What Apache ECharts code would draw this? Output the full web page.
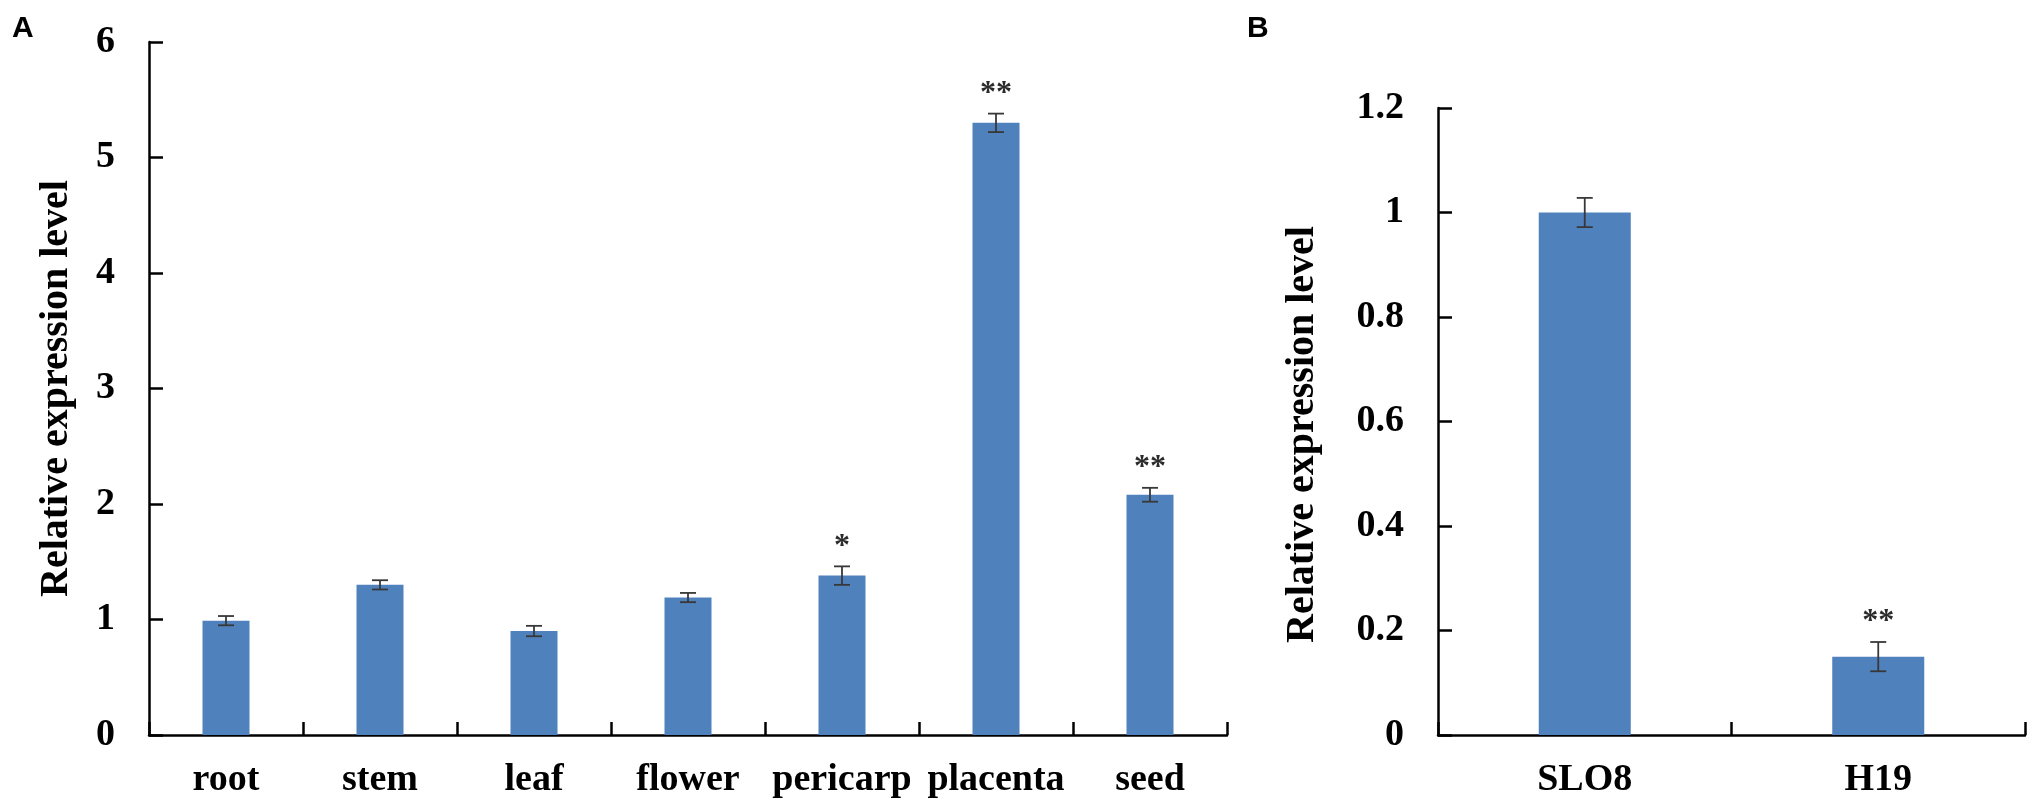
<!DOCTYPE html>
<html>
<head>
<meta charset="utf-8">
<script src="https://cdn.jsdelivr.net/npm/echarts@6/dist/echarts.min.js"></script>
<style>
    html, body { margin: 0; padding: 0; background: #fff; }
    #main { width: 2033px; height: 808px; }
</style>
</head>
<body>
<div id="main"></div>
<script>
// panel A: tissues
let tissueNames = ['root', 'stem', 'leaf', 'flower', 'pericarp', 'placenta', 'seed'];
let tissueValues = [0.99, 1.30, 0.90, 1.19, 1.38, 5.30, 2.08];
let tissueErrors = [0.04, 0.04, 0.045, 0.04, 0.08, 0.08, 0.06];
let tissueMarks = ['', '', '', '', '*', '**', '**'];
let tissueTicks = [0, 1, 2, 3, 4, 5, 6];

// panel B: lines
let lineNames = ['SLO8', 'H19'];
let lineValues = [1.00, 0.15];
let lineErrors = [0.028, 0.028];
let lineMarks = ['', '**'];
let lineTicks = [0, 0.2, 0.4, 0.6, 0.8, 1, 1.2];

const SERIF = '"Liberation Serif", "Times New Roman", serif';
const BAR_COLOR = '#4F81BD';
const ERR_COLOR = '#383838';

/**
 * error bar + significance stars
 */
function errorRenderer(marks) {
    return function (params, api) {
        let idx = api.value(0);
        let v = api.value(1);
        let e = api.value(2);
        let hi = api.coord([idx, v + e]);
        let lo = api.coord([idx, v - e]);
        let cap = 8;
        let lineStyle = { stroke: ERR_COLOR, lineWidth: 1.8 };
        let children = [
            { type: 'line', shape: { x1: hi[0], y1: hi[1], x2: lo[0], y2: lo[1] }, style: lineStyle },
            { type: 'line', shape: { x1: hi[0] - cap, y1: hi[1], x2: hi[0] + cap, y2: hi[1] }, style: lineStyle },
            { type: 'line', shape: { x1: lo[0] - cap, y1: lo[1], x2: lo[0] + cap, y2: lo[1] }, style: lineStyle }
        ];
        let mark = marks[params.dataIndex];
        if (mark) {
            children.push({
                type: 'text',
                x: hi[0],
                y: hi[1] - 20,
                style: {
                    text: mark,
                    font: 'bold 32px ' + SERIF,
                    fill: '#2b2b2b',
                    align: 'center',
                    verticalAlign: 'middle'
                }
            });
        }
        return { type: 'group', children: children };
    };
}

function xAxisOf(gridIndex, names) {
    return {
        type: 'category',
        gridIndex: gridIndex,
        data: names,
        axisLine: { lineStyle: { color: '#000', width: 2.5 } },
        axisTick: { show: true, interval: 0, alignWithLabel: false, inside: true, length: 13, lineStyle: { color: '#000', width: 2.5 } },
        axisLabel: { interval: 0, hideOverlap: false, margin: 26, color: '#000', fontFamily: SERIF, fontWeight: 'bold', fontSize: 38 },
        splitLine: { show: false }
    };
}

function yAxisOf(gridIndex, ticks, nameGap, namePadding) {
    return {
        type: 'value',
        gridIndex: gridIndex,
        min: ticks[0],
        max: ticks[ticks.length - 1],
        interval: ticks[1] - ticks[0],
        name: 'Relative expression level',
        nameLocation: 'middle',
        nameGap: nameGap,
        nameTextStyle: { color: '#000', fontFamily: SERIF, fontWeight: 'bold', fontSize: 40, padding: namePadding },
        axisLine: { show: true, lineStyle: { color: '#000', width: 2.5 } },
        axisTick: { show: true, inside: true, length: 14, lineStyle: { color: '#000', width: 2.5 } },
        axisLabel: { margin: 34, color: '#000', fontFamily: SERIF, fontWeight: 'bold', fontSize: 38 },
        splitLine: { show: false }
    };
}

let chart = echarts.init(document.getElementById('main'));
let option = {
    backgroundColor: '#fff',
    animation: false,
    graphic: [
        { type: 'text', left: 12, top: 14, style: { text: 'A', font: 'bold 30px "Liberation Sans", Arial, sans-serif', fill: '#000' } },
        { type: 'text', left: 1247, top: 14, style: { text: 'B', font: 'bold 30px "Liberation Sans", Arial, sans-serif', fill: '#000' } }
    ],
    grid: [
        { left: 149, right: 806, top: 42, bottom: 73 },
        { left: 1438, right: 8, top: 108, bottom: 73 }
    ],
    xAxis: [xAxisOf(0, tissueNames), xAxisOf(1, lineNames)],
    yAxis: [yAxisOf(0, tissueTicks, 72, 0), yAxisOf(1, lineTicks, 115, [0, 26, 0, 0])],
    series: [
        {
            type: 'bar', xAxisIndex: 0, yAxisIndex: 0,
            barWidth: 47,
            itemStyle: { color: BAR_COLOR },
            data: tissueValues
        },
        {
            type: 'custom', xAxisIndex: 0, yAxisIndex: 0,
            renderItem: errorRenderer(tissueMarks),
            encode: { x: 0, y: 1 },
            z: 5,
            data: tissueValues.map(function (v, i) { return [i, v, tissueErrors[i]]; })
        },
        {
            type: 'bar', xAxisIndex: 1, yAxisIndex: 1,
            barWidth: 92,
            itemStyle: { color: BAR_COLOR },
            data: lineValues
        },
        {
            type: 'custom', xAxisIndex: 1, yAxisIndex: 1,
            renderItem: errorRenderer(lineMarks),
            encode: { x: 0, y: 1 },
            z: 5,
            data: lineValues.map(function (v, i) { return [i, v, lineErrors[i]]; })
        }
    ]
};
chart.setOption(option);
</script>
</body>
</html>
